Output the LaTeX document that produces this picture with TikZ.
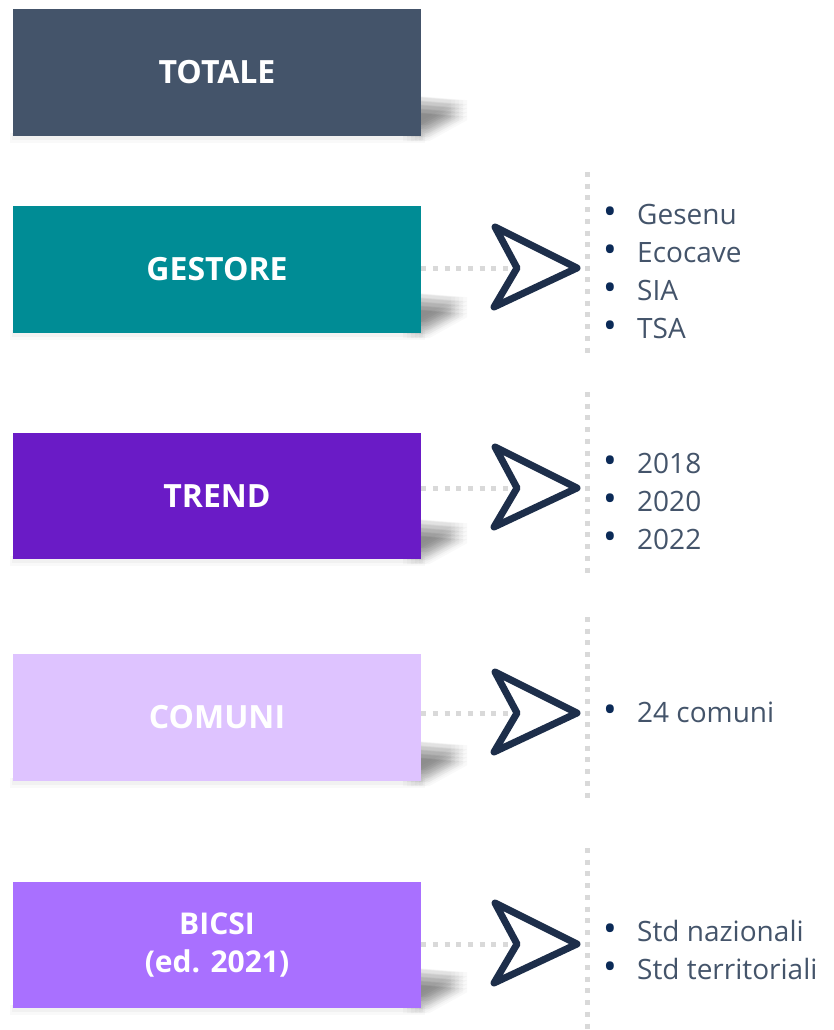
\documentclass[tikz,border=0pt]{standalone}
\usepackage{fontspec}
\setmainfont{Open Sans}
\usetikzlibrary{backgrounds}

\definecolor{totc}{HTML}{44546A}
\definecolor{gestc}{HTML}{008C95}
\definecolor{trendc}{HTML}{6A1BC6}
\definecolor{comc}{HTML}{DEC3FF}
\definecolor{bicsic}{HTML}{A970FF}
\definecolor{arrc}{HTML}{1D2E4A}
\definecolor{dotc}{HTML}{D9D9D9}
\definecolor{bulc}{HTML}{0B2A57}
\definecolor{txtc}{HTML}{44546A}

% bullet of a list line
\newcommand{\li}{\makebox[34pt][l]{\textcolor{bulc}{\scalebox{1.3}{\textbullet}}}}

% soft corner shadow under a box (the wedge is smeared over a grid of offsets)
\newcommand{\boxshadow}[1]{%
  \begin{scope}[shift={(#1.south east)}]
    \foreach \dx in {-8,-4,0,4,8}
      \foreach \dy in {-8,-4,0,4,8}
        \fill[black, opacity=0.022]
          (-10+\dx,-32+\dy) -- (38+\dx,-28+\dy) -- (38+\dx,-24+\dy)
          -- (0+\dx,-3+\dy) -- (-10+\dx,-3+\dy) -- cycle;
    \fill[black, opacity=0.025] (-411,-3) rectangle (4,7);
    \fill[black, opacity=0.03] (-409,-3) rectangle (2,4);
  \end{scope}}

\tikzset{
  box/.style={minimum width=408pt, minimum height=127pt, inner sep=0pt,
    text=white, font=\fontsize{32}{38}\selectfont\bfseries, align=center},
  chevron/.style={draw=arrc, line width=7pt, line join=round, fill=white},
  sepline/.style={draw=dotc, line width=5pt, dash pattern=on 5pt off 6.7pt},
  list/.style={text=txtc, font=\fontsize{28}{37.7}\selectfont, align=left,
    inner sep=0pt},
}

\begin{document}
\begin{tikzpicture}[x=1pt, y=-1pt]
  \useasboundingbox (0,0) rectangle (834,1030);

  % left column
  \node[box, fill=totc] (totale) at (217,72.5) {TOTALE};
  \node[box, fill=gestc] (gestore) at (217,269.5) {GESTORE};
  \node[box, fill=trendc, minimum height=126pt] (trend) at (217,496) {TREND};
  \node[box, fill=comc] (comuni) at (217,717.5) {COMUNI};
  \node[box, fill=bicsic, minimum height=126pt,
    font=\fontsize{30}{38}\selectfont\bfseries] (bicsi) at (217,945) {BICSI\\(ed. 2021)};

  \begin{scope}[on background layer]
    \foreach \n in {totale,gestore,trend,comuni,bicsi}
      \boxshadow{\n};
  \end{scope}

  % arrows
  \coordinate (gestore-notch) at (517,268);
  \coordinate (trend-notch) at (517,488);
  \coordinate (comuni-notch) at (517,713);
  \coordinate (bicsi-notch) at (517,944);

  \foreach \n in {gestore,trend,comuni,bicsi} {
    \draw[sepline] (\n.east |- \n-notch) -- (\n-notch);
    \draw[chevron] (\n-notch) -- ++(-22,-41) -- ++(82,41) -- ++(-83,39) -- cycle;
    \draw[sepline] (\n-notch) ++(70,-96) -- ++(0,186);
  }

  % right column (base = last line)
  \node[list, anchor=base west] (gestore-list) at (603,338)
    {\li Gesenu\\\li Ecocave\\\li SIA\\\li TSA};
  \node[list, anchor=base west] (trend-list) at (603,549)
    {\li 2018\\\li 2020\\\li 2022};
  \node[list, anchor=base west] (comuni-list) at (603,722)
    {\li 24 comuni};
  \node[list, anchor=base west] (bicsi-list) at (603,979)
    {\li Std nazionali\\\li Std territoriali};
\end{tikzpicture}
\end{document}
